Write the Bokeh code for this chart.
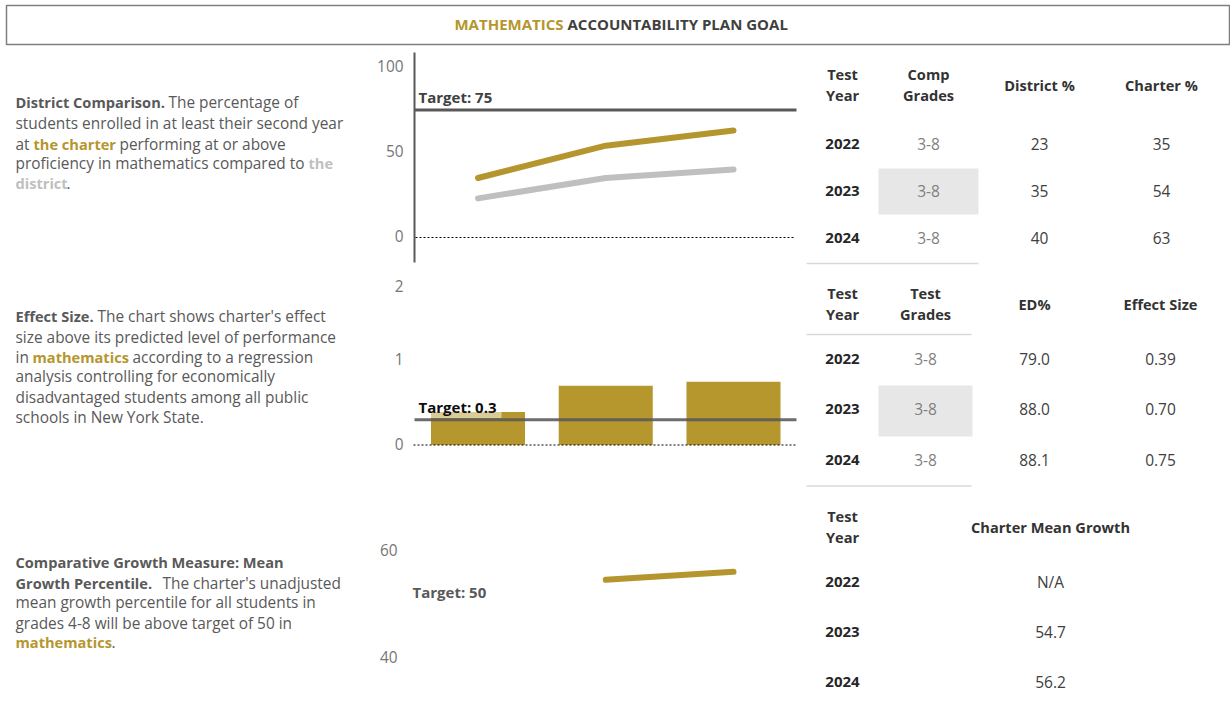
import math
from bokeh.plotting import figure
from bokeh.models import Range1d
from bokeh.core.properties import value
from bokeh.embed import file_html
from bokeh.resources import INLINE

# ---------------- data ----------------
years = [2022, 2023, 2024]
district_pct = [23, 35, 40]
charter_pct = [35, 54, 63]
comp_grades = ["3-8", "3-8", "3-8"]
test_grades = ["3-8", "3-8", "3-8"]
ed_pct = [79.0, 88.0, 88.1]
effect_size = [0.39, 0.70, 0.75]
mean_growth = [float("nan"), 54.7, 56.2]
target_prof = 75
target_effect = 0.3
target_growth = 50
ticks_prof = [0, 50, 100]
ticks_effect = [0, 1]
ticks_effect_top = [2]
ticks_growth = [40, 60]

# ---------------- layout helpers ----------------
W, H = 1230, 705
OX, OY = 0, 0
FONT = "Open Sans"
GOLD = "#B5962E"
DGRAY = "#595959"
LGRAY = "#BFBFBF"
REG = 15.4
BLD = 14.6
TEXT_DY = -1.5


def X(x):
    return x - OX


def Y(y):
    return y - OY


def yrange(v0, y0, v1, y1):
    k = (y0 - y1) / (v1 - v0)
    start = v0 - (OY + H - y0) / k
    return Range1d(start, start + H / k)


def xrange(v0, x0, k):
    start = v0 - (x0 - OX) / k
    return Range1d(start, start + W / k)


p = figure(width=W, height=H, x_range=Range1d(0, W), y_range=Range1d(H, 0),
           output_backend="svg", toolbar_location=None,
           x_axis_type=None, y_axis_type=None, min_border=0)
p.grid.visible = False
p.outline_line_color = None
p.background_fill_color = "white"
p.border_fill_color = "white"

p.extra_y_ranges = {
    "prof": yrange(0, 237, 100, 67),
    "eff": yrange(0, 444.5, 1, 360),
    "grow": yrange(40, 658, 60, 551),
}
p.extra_x_ranges = {"yr": xrange(2022, 477.5, 127.75)}


def texts(xs, ys, txts, color, size=REG, bold=False, align="left", dy=0, **kw):
    p.text(x=xs, y=ys, text=txts, text_color=color, text_font=value(FONT),
           text_font_size=f"{size}px",
           text_font_style="bold" if bold else "normal",
           text_align=align, text_baseline="middle",
           y_offset=TEXT_DY + dy, **kw)


def seg(x, y, t, color=DGRAY, bold=False, size=None, align="left"):
    if size is None:
        size = BLD if bold else REG
    texts([X(x)], [Y(y)], [t], color, size=size, bold=bold, align=align)


# ---------------- title box ----------------
p.quad(left=[X(6)], right=[X(1229)], top=[Y(5)], bottom=[Y(44)],
       fill_color=None, line_color="#7F7F7F", line_width=1.5)
seg(563, 25, "MATHEMATICS", GOLD, bold=True, size=15, align="right")
seg(567, 25, "ACCOUNTABILITY PLAN GOAL", "#404040", bold=True, size=15)

# ---------------- left descriptions ----------------
seg(15, 103, "District Comparison.", bold=True)
seg(168, 103, "The percentage of")
seg(15, 124, "students enrolled in at least their second year")
seg(15, 145, "at")
seg(33, 145, "the charter", GOLD, bold=True)
seg(119, 145, "performing at or above")
seg(15, 164, "proficiency in mathematics compared to")
seg(308, 164, "the", LGRAY, bold=True)
seg(15, 184, "district", LGRAY, bold=True)
seg(66, 184, ".")

seg(15, 317, "Effect Size.", bold=True)
seg(97, 317, "The chart shows charter's effect")
seg(15, 338, "size above its predicted level of performance")
seg(15, 358, "in")
seg(32, 358, "mathematics", GOLD, bold=True)
seg(132, 358, "according to a regression")
seg(15, 377, "analysis controlling for economically")
seg(15, 398, "disadvantaged students among all public")
seg(15, 418, "schools in New York State.")

seg(15, 563, "Comparative Growth Measure: Mean", bold=True)
seg(15, 584, "Growth Percentile.", bold=True)
seg(162, 584, "The charter's unadjusted")
seg(15, 603, "mean growth percentile for all students in")
seg(15, 624, "grades 4-8 will be above target of 50 in")
seg(15, 643, "mathematics", GOLD, bold=True)
seg(111, 643, ".")

TICK = "#767676"

# ---------------- chart 1: proficiency ----------------
p.segment(x0=[X(414)], y0=[Y(52)], x1=[X(414)], y1=[Y(262)],
          line_color=DGRAY, line_width=2)
texts([X(403)] * len(ticks_prof), ticks_prof, [str(t) for t in ticks_prof],
      TICK, align="right", y_range_name="prof")
p.segment(x0=[X(415)], x1=[X(795)], y0=[0], y1=[0], y_range_name="prof",
          line_color="black", line_width=1, line_dash="2 2")
p.segment(x0=[X(414)], x1=[X(796)], y0=[target_prof], y1=[target_prof],
          y_range_name="prof", line_color=DGRAY, line_width=3)
texts([X(418)], [target_prof], [f"Target: {target_prof}"], "#404040", bold=True,
      size=15, y_range_name="prof", dy=-11.5)
p.line(x=years, y=district_pct, x_range_name="yr", y_range_name="prof",
       line_color=LGRAY, line_width=6, line_cap="round", line_join="round")
p.line(x=years, y=charter_pct, x_range_name="yr", y_range_name="prof",
       line_color=GOLD, line_width=6, line_cap="round", line_join="round")

# ---------------- chart 2: effect size ----------------
texts([X(403)] * len(ticks_effect), ticks_effect, [str(t) for t in ticks_effect],
      TICK, align="right", y_range_name="eff")
texts([X(403)], ticks_effect_top, [str(t) for t in ticks_effect_top],
      TICK, align="right", y_range_name="eff", dy=11)
p.vbar(x=years, top=effect_size, bottom=0, width=0.736, x_range_name="yr",
       y_range_name="eff", fill_color="#B5972E", line_color=None)
p.quad(left=[X(414)], right=[X(501)], top=[Y(397)], bottom=[Y(417.5)],
       fill_color="white", fill_alpha=0.5, line_color=None)
p.segment(x0=[X(414)], x1=[X(796)], y0=[target_effect], y1=[target_effect],
          y_range_name="eff", line_color=DGRAY, line_width=3, line_alpha=0.88)
p.segment(x0=[X(413)], x1=[X(796)], y0=[0], y1=[0], y_range_name="eff",
          line_color="black", line_width=1, line_dash="2 2")
texts([X(418)], [target_effect], [f"Target: {target_effect}"], "#0D0D0D",
      bold=True, size=15, y_range_name="eff", dy=-11.5)

# ---------------- chart 3: mean growth ----------------
texts([X(397)] * len(ticks_growth), ticks_growth, [str(t) for t in ticks_growth],
      TICK, align="right", y_range_name="grow")
texts([X(412)], [target_growth], [f"Target: {target_growth}"], DGRAY, bold=True,
      size=15, y_range_name="grow", dy=-11.5)
p.line(x=years, y=mean_growth, x_range_name="yr", y_range_name="grow",
       line_color=GOLD, line_width=6, line_cap="round")

# ---------------- tables ----------------
HEAD = "#333333"
YEARC = "#262626"
NUMC = "#404040"
GRADEC = "#7F7F7F"
RULE = "#D9D9D9"
TR = 15.5

# table 1
p.quad(left=[X(878)], right=[X(978)], top=[Y(168)], bottom=[Y(214)],
       fill_color="#E7E7E7", line_color=None)
p.segment(x0=[X(806)], x1=[X(978)], y0=[Y(263)], y1=[Y(263)],
          line_color=RULE, line_width=1.5)
for cx, a, b in [(842, "Test", "Year"), (928, "Comp", "Grades")]:
    seg(cx, 75, a, HEAD, bold=True, align="center")
    seg(cx, 96, b, HEAD, bold=True, align="center")
seg(1039, 86, "District %", HEAD, bold=True, align="center")
seg(1161, 86, "Charter %", HEAD, bold=True, align="center")
rows1 = [Y(145), Y(192), Y(239)]
texts([X(842)] * 3, rows1, [str(y) for y in years], YEARC, size=15, bold=True, align="center")
texts([X(928)] * 3, rows1, comp_grades, GRADEC, size=TR, align="center")
texts([X(1039)] * 3, rows1, [str(v) for v in district_pct], NUMC, size=TR, align="center")
texts([X(1161)] * 3, rows1, [str(v) for v in charter_pct], NUMC, size=TR, align="center")

# table 2
p.quad(left=[X(878)], right=[X(972)], top=[Y(385)], bottom=[Y(436)],
       fill_color="#E7E7E7", line_color=None)
p.segment(x0=[X(806)] * 2, x1=[X(971)] * 2, y0=[Y(334), Y(485.5)], y1=[Y(334), Y(485.5)],
          line_color=RULE, line_width=1.5)
for cx, a, b in [(842, "Test", "Year"), (925, "Test", "Grades")]:
    seg(cx, 294, a, HEAD, bold=True, align="center")
    seg(cx, 315, b, HEAD, bold=True, align="center")
seg(1034, 305, "ED%", HEAD, bold=True, align="center")
seg(1160, 305, "Effect Size", HEAD, bold=True, align="center")
rows2 = [Y(360), Y(410), Y(461)]
texts([X(842)] * 3, rows2, [str(y) for y in years], YEARC, size=15, bold=True, align="center")
texts([X(925)] * 3, rows2, test_grades, GRADEC, size=TR, align="center")
texts([X(1034)] * 3, rows2, [f"{v:.1f}" for v in ed_pct], NUMC, size=TR, align="center")
texts([X(1160)] * 3, rows2, [f"{v:.2f}" for v in effect_size], NUMC, size=TR, align="center")

# table 3
seg(842, 517, "Test", HEAD, bold=True, align="center")
seg(842, 538, "Year", HEAD, bold=True, align="center")
seg(1050, 528, "Charter Mean Growth", HEAD, bold=True, align="center")
rows3 = [Y(583), Y(633), Y(683)]
texts([X(842)] * 3, rows3, [str(y) for y in years], YEARC, size=15, bold=True, align="center")
texts([X(1050)] * 3, rows3,
      ["N/A" if math.isnan(v) else f"{v:.1f}" for v in mean_growth], NUMC, size=TR, align="center")

open("out.html", "w").write(file_html(p, INLINE))
